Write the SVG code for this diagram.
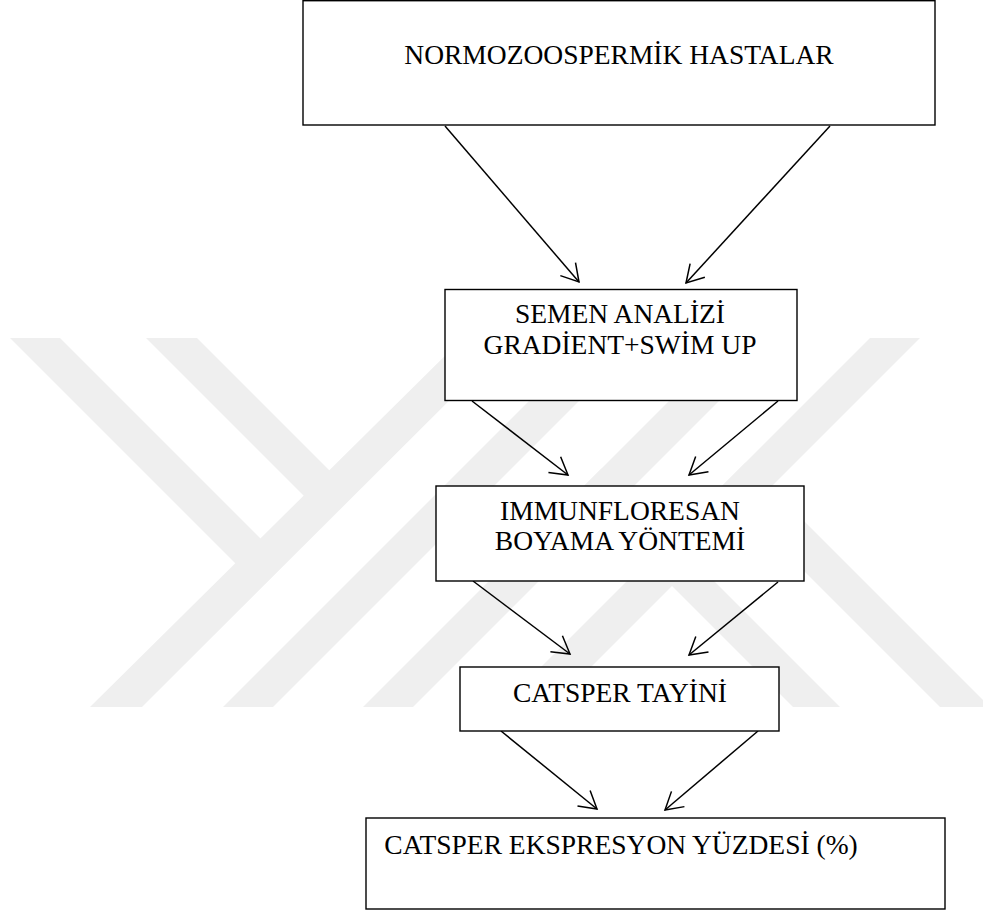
<svg xmlns="http://www.w3.org/2000/svg" width="983" height="912" viewBox="0 0 983 912">
<style>
.box{fill:#fff;stroke:#000;stroke-width:1.4}
.t{font-family:"Liberation Serif","Times New Roman",serif;font-size:27.5px;fill:#000;text-anchor:middle}
.wm{fill:#efefef}
.c{stroke:#000;stroke-width:1.5;fill:none;marker-end:url(#ah)}
</style>
<defs>
<marker id="ah" markerUnits="userSpaceOnUse" markerWidth="40" markerHeight="40" refX="0" refY="0" viewBox="-20 -20 40 40" orient="auto" overflow="visible"><path d="M-17,-10 L0,0 L-17,10" fill="none" stroke="#000" stroke-width="1.5"/></marker>
</defs>
<rect width="983" height="912" fill="#fff"/>
<g id="watermark">
<polygon class="wm" points="10,338 60,338 261.5,539.5 236.5,564.5"/>
<polygon class="wm" points="146,338 197,338 330,471 304.5,496.5"/>
<polygon class="wm" points="463,338 512,338 142,707 90,707"/>
<polygon class="wm" points="592,338 642,338 273,707 223,707"/>
<polygon class="wm" points="732,338 782,338 413,707 363,707"/>
<polygon class="wm" points="870,338 920,338 551,707 501,707"/>
<polygon class="wm" points="578,492 601.5,468.5 840,707 793,707"/>
<polygon class="wm" points="720.5,487.5 745.5,462.5 983,700 983,707 940,707"/>
</g>
<g id="connectors">
<line class="c" x1="445" y1="126" x2="579" y2="282"/>
<line class="c" x1="830" y1="126" x2="686" y2="283"/>
<line class="c" x1="472" y1="401" x2="568" y2="475"/>
<line class="c" x1="778" y1="401" x2="689" y2="475"/>
<line class="c" x1="473" y1="581" x2="570" y2="654"/>
<line class="c" x1="778" y1="582" x2="689" y2="655"/>
<line class="c" x1="501" y1="731" x2="597" y2="809"/>
<line class="c" x1="758" y1="731" x2="665" y2="810"/>
</g>
<g id="n1"><rect class="box" x="303" y="0.7" width="632" height="124.3"/><text class="t" x="619" y="64">NORMOZOOSPERMİK HASTALAR</text></g>
<g id="n2"><rect class="box" x="445" y="289.5" width="352" height="111"/><text class="t" x="620" y="323">SEMEN ANALİZİ</text><text class="t" x="620" y="354">GRADİENT+SWİM UP</text></g>
<g id="n3"><rect class="box" x="436" y="486" width="368" height="95"/><text class="t" x="620" y="520">IMMUNFLORESAN</text><text class="t" x="620" y="550">BOYAMA YÖNTEMİ</text></g>
<g id="n4"><rect class="box" x="460" y="667" width="319" height="64"/><text class="t" x="620" y="702">CATSPER TAYİNİ</text></g>
<g id="n5"><rect class="box" x="366" y="818" width="579" height="91"/><text class="t" x="621" y="854">CATSPER EKSPRESYON YÜZDESİ (%)</text></g>
</svg>
